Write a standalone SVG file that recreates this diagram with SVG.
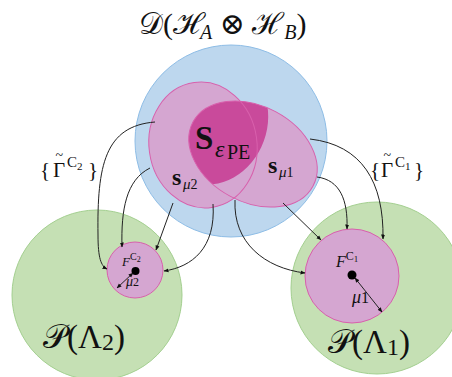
<svg xmlns="http://www.w3.org/2000/svg" width="452" height="377" viewBox="0 0 452 377">
<style>
.t{font-family:"Liberation Serif","DejaVu Serif",serif;fill:#111}
.i{font-style:italic}
.b{font-weight:bold}
.blue{fill:#bdd7ee;stroke:#8ebde6;stroke-width:1}
.green{fill:#c5e0b4;stroke:#a3cf8f;stroke-width:1}
.pink{fill:#d5a6d1;stroke:#d860ac;stroke-width:1}
.pinkfill{fill:#d5a6d1;stroke:none}
.pinkline{fill:none;stroke:#d860ac;stroke-width:1}
.dark{fill:#c94a9b}
.conn{fill:none;stroke:#222;stroke-width:1}
</style>
<defs>
<marker id="ah" viewBox="0 0 10 10" refX="9" refY="5" markerWidth="5" markerHeight="5" orient="auto-start-reverse" markerUnits="userSpaceOnUse">
<path d="M0,1 L10,5 L0,9 z" fill="#111"/>
</marker>
<clipPath id="clipL">
<ellipse cx="203" cy="145" rx="54" ry="63" transform="rotate(-8 203 145)"/>
</clipPath>
</defs>

<g id="green-left"><circle class="green" cx="97" cy="295" r="85"/></g>
<g id="green-right"><circle class="green" cx="377" cy="288" r="86"/></g>

<g id="density">
<circle class="blue" cx="231" cy="141" r="96"/>
</g>

<g id="s-mu2">
<ellipse class="pinkfill" cx="203" cy="145" rx="54" ry="63" transform="rotate(-8 203 145)"/>
</g>
<g id="s-mu1">
<ellipse class="pinkfill" cx="253" cy="154" rx="68" ry="48" transform="rotate(28 253 154)"/>
</g>
<g id="s-epe">
<ellipse class="dark" cx="253" cy="154" rx="68" ry="48" transform="rotate(28 253 154)" clip-path="url(#clipL)"/>
</g>
<g id="outlines">
<ellipse class="pinkline" cx="203" cy="145" rx="54" ry="63" transform="rotate(-8 203 145)"/>
<ellipse class="pinkline" cx="253" cy="154" rx="68" ry="48" transform="rotate(28 253 154)"/>
</g>

<g id="F-C2">
<circle class="pink" cx="135" cy="270" r="28"/>
<circle cx="135.5" cy="271" r="4" fill="#000"/>
</g>
<g id="F-C1">
<circle class="pink" cx="352" cy="276" r="47"/>
<circle cx="352" cy="275" r="4.5" fill="#000"/>
</g>

<g id="connectors">
<path class="conn" d="M155,122 C105,126 97,165 98,235 C98,258 101,266 107,269" marker-end="url(#ah)"/>
<path class="conn" d="M150,168 C126,180 121,210 122,247" marker-end="url(#ah)"/>
<path class="conn" d="M173,203 L156,250" marker-end="url(#ah)"/>
<path class="conn" d="M213,204 C216,248 192,267 164,271" marker-end="url(#ah)"/>
<path class="conn" d="M235,200 C233,243 265,268 305,273" marker-end="url(#ah)"/>
<path class="conn" d="M283,203 L321,240" marker-end="url(#ah)"/>
<path class="conn" d="M317,177 C340,180 348,200 347,229" marker-end="url(#ah)"/>
<path class="conn" d="M310,139 C362,145 384,182 383,239" marker-end="url(#ah)"/>
<path class="conn" d="M133,273 L117,288" marker-start="url(#ah)" marker-end="url(#ah)"/>
<path class="conn" d="M355,278 L382,312" marker-start="url(#ah)" marker-end="url(#ah)"/>
</g>

<g id="labels">
<text class="t" x="139" y="34" font-size="30">𝒟(ℋ<tspan class="i" font-size="20" dy="5">A</tspan><tspan dy="-5"> ⊗ ℋ</tspan><tspan class="i" font-size="20" dy="5">B</tspan><tspan dy="-5">)</tspan></text>
<text class="t b" x="195" y="149" font-size="33">S</text>
<text class="t i" x="215" y="157" font-size="24">ε</text>
<text class="t" x="227" y="159" font-size="20">PE</text>
<text class="t b" x="268" y="173" font-size="24">s</text>
<text class="t" x="279" y="177" font-size="15"><tspan class="i">μ</tspan><tspan font-size="14">1</tspan></text>
<text class="t b" x="172" y="185" font-size="24">s</text>
<text class="t" x="183" y="189" font-size="15"><tspan class="i">μ</tspan><tspan font-size="14">2</tspan></text>

<text class="t" x="40" y="177" font-size="21">{<tspan x="53" y="177">Γ</tspan><tspan x="55.5" y="160" font-size="14">~</tspan><tspan x="67" y="167" font-size="15">C</tspan><tspan x="77" y="170" font-size="11">2</tspan><tspan x="88" y="177">}</tspan></text>

<text class="t" x="370" y="177" font-size="21">{<tspan x="381" y="177">Γ</tspan><tspan x="383.5" y="160" font-size="14">~</tspan><tspan x="395" y="167" font-size="15">C</tspan><tspan x="405" y="170" font-size="11">1</tspan><tspan x="414" y="177">}</tspan></text>

<text class="t" x="122" y="266" font-size="13"><tspan class="i">F</tspan><tspan font-size="10" dy="-6">C</tspan><tspan font-size="8" dy="2">2</tspan></text>
<text class="t" x="126" y="286" font-size="14"><tspan class="i">μ</tspan><tspan font-size="12">2</tspan></text>
<text class="t" x="336" y="267" font-size="16"><tspan class="i">F</tspan><tspan font-size="12" dy="-7">C</tspan><tspan font-size="9" dy="2">1</tspan></text>
<text class="t" x="352" y="303" font-size="18"><tspan class="i">μ</tspan><tspan font-size="16">1</tspan></text>
<text class="t" x="43" y="348" font-size="33">𝒫(Λ<tspan font-size="24" dy="2">2</tspan><tspan dy="-2">)</tspan></text>
<text class="t" x="328" y="353" font-size="33">𝒫(Λ<tspan font-size="24" dy="2">1</tspan><tspan dy="-2">)</tspan></text>
</g>
</svg>
